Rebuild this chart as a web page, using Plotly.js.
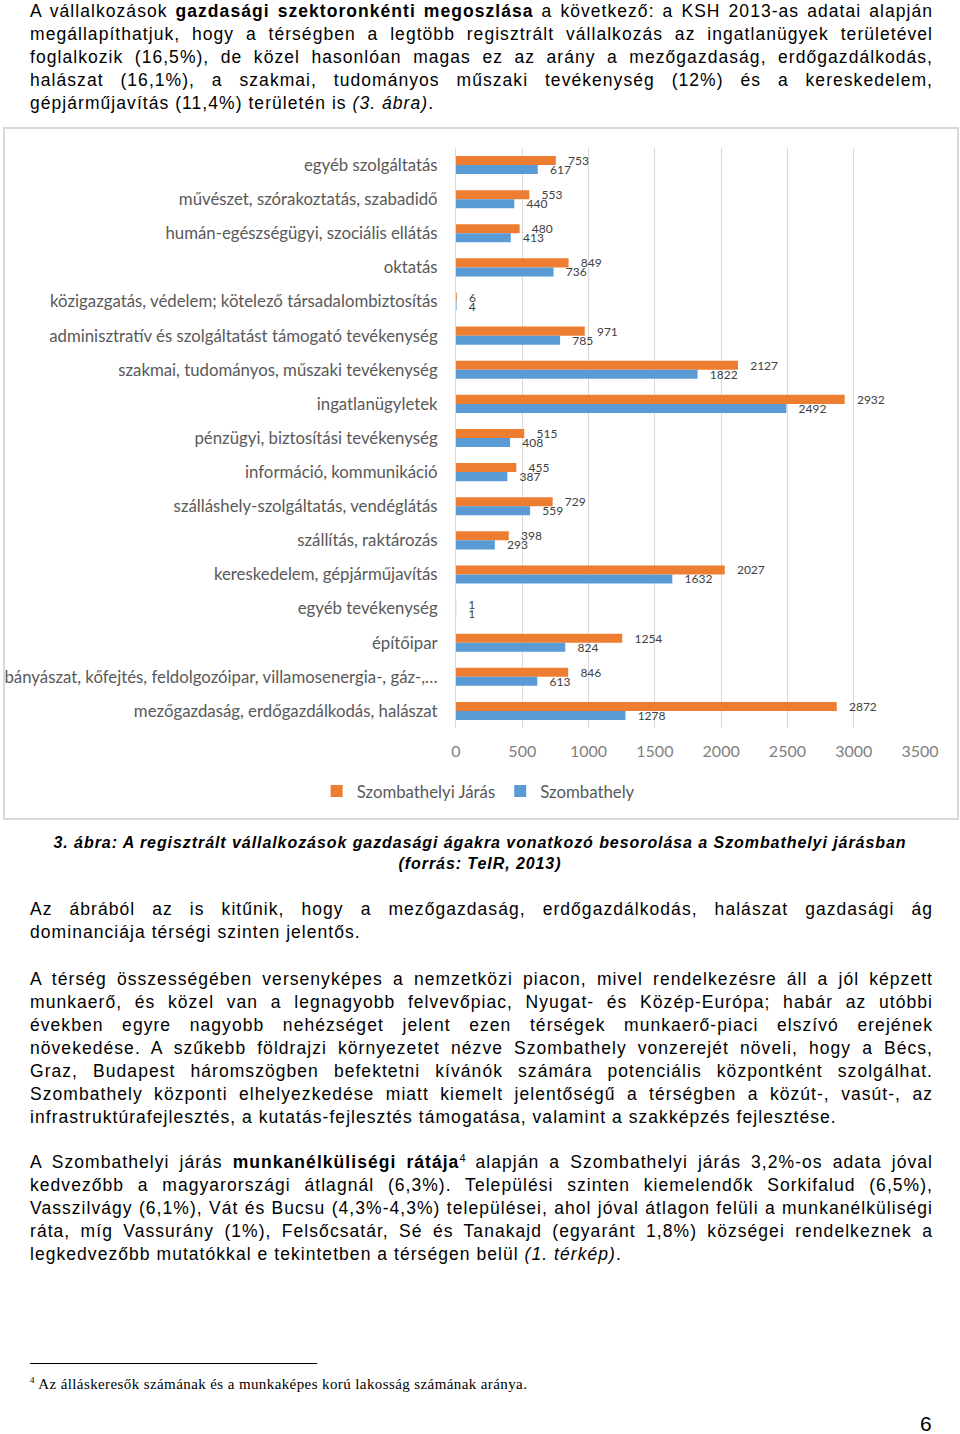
<!DOCTYPE html>
<html>
<head>
<meta charset="utf-8">
<script src="https://cdn.plot.ly/plotly-3.0.1.min.js"></script>
<style>
  html, body { margin:0; padding:0; background:#fff; }
  body { width:960px; height:1434px; position:relative; overflow:hidden; font-family:"Liberation Sans", Arial, sans-serif; color:#000; }
  .para { position:absolute; left:30px; width:903px; font-size:17.5px; line-height:23px; letter-spacing:1.05px; }
  .ln { white-space:nowrap; text-align:justify; text-align-last:justify; width:903px; }
  .last { text-align:left; text-align-last:left; }
  .cap { position:absolute; left:0; width:960px; text-align:center; font-weight:bold; font-style:italic; font-size:16px; line-height:21px; top:832px; letter-spacing:0.93px; }
  #chartbox { position:absolute; left:3px; top:127px; width:952px; height:689px; border:2px solid #d9d9d9; }
  #chart { width:952px; height:689px; }
  .fnline { position:absolute; left:30px; top:1363px; width:287px; height:1px; background:#000; }
  .fn { position:absolute; left:30px; top:1375px; font-family:"Liberation Serif", "Times New Roman", serif; font-size:15px; letter-spacing:0.4px; white-space:nowrap; }
  .fn sup { font-size:9px; }
  .pg { position:absolute; left:920px; top:1412px; font-size:21px; font-family:"Liberation Sans", Arial, sans-serif; }
  sup.fr { font-size:11px; vertical-align:6px; line-height:0; letter-spacing:0; }
</style>
</head>
<body>
<div class="para" style="top:0px;">
  <div class="ln">A vállalkozások <b>gazdasági szektoronkénti megoszlása</b> a következő: a KSH 2013-as adatai alapján</div>
  <div class="ln">megállapíthatjuk, hogy a térségben a legtöbb regisztrált vállalkozás az ingatlanügyek területével</div>
  <div class="ln">foglalkozik (16,5%), de közel hasonlóan magas ez az arány a mezőgazdaság, erdőgazdálkodás,</div>
  <div class="ln">halászat (16,1%), a szakmai, tudományos műszaki tevékenység (12%) és a kereskedelem,</div>
  <div class="ln last">gépjárműjavítás (11,4%) területén is <i>(3. ábra)</i>.</div>
</div>

<div id="chartbox"><div id="chart"></div></div>

<div class="cap">3. ábra: A regisztrált vállalkozások gazdasági ágakra vonatkozó besorolása a Szombathelyi járásban<br>(forrás: TeIR, 2013)</div>

<div class="para" style="top:898px;">
  <div class="ln">Az ábrából az is kitűnik, hogy a mezőgazdaság, erdőgazdálkodás, halászat gazdasági ág</div>
  <div class="ln last">dominanciája térségi szinten jelentős.</div>
</div>

<div class="para" style="top:968px;">
  <div class="ln">A térség összességében versenyképes a nemzetközi piacon, mivel rendelkezésre áll a jól képzett</div>
  <div class="ln">munkaerő, és közel van a legnagyobb felvevőpiac, Nyugat- és Közép-Európa; habár az utóbbi</div>
  <div class="ln">években egyre nagyobb nehézséget jelent ezen térségek munkaerő-piaci elszívó erejének</div>
  <div class="ln">növekedése. A szűkebb földrajzi környezetet nézve Szombathely vonzerejét növeli, hogy a Bécs,</div>
  <div class="ln">Graz, Budapest háromszögben befektetni kívánók számára potenciális központként szolgálhat.</div>
  <div class="ln">Szombathely központi elhelyezkedése miatt kiemelt jelentőségű a térségben a közút-, vasút-, az</div>
  <div class="ln last">infrastruktúrafejlesztés, a kutatás-fejlesztés támogatása, valamint a szakképzés fejlesztése.</div>
</div>

<div class="para" style="top:1151px;">
  <div class="ln">A Szombathelyi járás <b>munkanélküliségi rátája</b><sup class="fr">4</sup> alapján a Szombathelyi járás 3,2%-os adata jóval</div>
  <div class="ln">kedvezőbb a magyarországi átlagnál (6,3%). Települési szinten kiemelendők Sorkifalud (6,5%),</div>
  <div class="ln">Vasszilvágy (6,1%), Vát és Bucsu (4,3%-4,3%) települései, ahol jóval átlagon felüli a munkanélküliségi</div>
  <div class="ln">ráta, míg Vassurány (1%), Felsőcsatár, Sé és Tanakajd (egyaránt 1,8%) községei rendelkeznek a</div>
  <div class="ln last">legkedvezőbb mutatókkal e tekintetben a térségen belül <i>(1. térkép)</i>.</div>
</div>

<div class="fnline"></div>
<div class="fn"><sup>4</sup> Az álláskeresők számának és a munkaképes korú lakosság számának aránya.</div>
<div class="pg">6</div>

<script>
// shrink letter-spacing on any justified line that would overflow the text width
document.querySelectorAll('.ln').forEach(function (el) {
  var ls = 1.05;
  while (el.scrollWidth > 903 && ls > -0.5) {
    ls -= 0.05;
    el.style.letterSpacing = ls.toFixed(2) + 'px';
  }
});

const categories = [
  "egyéb szolgáltatás",
  "művészet, szórakoztatás, szabadidő",
  "humán-egészségügyi, szociális ellátás",
  "oktatás",
  "közigazgatás, védelem; kötelező társadalombiztosítás",
  "adminisztratív és szolgáltatást támogató tevékenység",
  "szakmai, tudományos, műszaki tevékenység",
  "ingatlanügyletek",
  "pénzügyi, biztosítási tevékenység",
  "információ, kommunikáció",
  "szálláshely-szolgáltatás, vendéglátás",
  "szállítás, raktározás",
  "kereskedelem, gépjárműjavítás",
  "egyéb tevékenység",
  "építőipar",
  "bányászat, kőfejtés, feldolgozóipar, villamosenergia-, gáz-,…",
  "mezőgazdaság, erdőgazdálkodás, halászat"
];
const jarasValues = [753, 553, 480, 849, 6, 971, 2127, 2932, 515, 455, 729, 398, 2027, 1, 1254, 846, 2872];
const szombathelyValues = [617, 440, 413, 736, 4, 785, 1822, 2492, 408, 387, 559, 293, 1632, 1, 824, 613, 1278];
const seriesNames = ["Szombathelyi Járás", "Szombathely"];
const xTicks = [0, 500, 1000, 1500, 2000, 2500, 3000, 3500];

const chartFont = "Lato, 'Open Sans', sans-serif";
const pad = "\u00a0\u00a0\u00a0";

const traces = [
  {
    type: "bar", orientation: "h", name: seriesNames[0],
    y: categories, x: jarasValues,
    marker: { color: "#ED7D31" },
    text: jarasValues.map(v => pad + v),
    textposition: "outside", textfont: { family: chartFont, size: 12, color: "#404040" },
    constraintext: "none", cliponaxis: false, hoverinfo: "x+y"
  },
  {
    type: "bar", orientation: "h", name: seriesNames[1],
    y: categories, x: szombathelyValues,
    marker: { color: "#5B9BD5" },
    text: szombathelyValues.map(v => pad + v),
    textposition: "outside", textfont: { family: chartFont, size: 12, color: "#404040" },
    constraintext: "none", cliponaxis: false, hoverinfo: "x+y"
  }
];

const layout = {
  width: 952, height: 689,
  margin: { l: 451, r: 37, t: 19, b: 90 },
  paper_bgcolor: "#fff", plot_bgcolor: "#fff",
  barmode: "group", bargap: 0.47, bargroupgap: 0,
  font: { family: chartFont, color: "#595959" },
  xaxis: {
    range: [0, 3500], tickvals: xTicks, ticktext: xTicks.map(String),
    showgrid: true, gridcolor: "#d9d9d9", gridwidth: 1,
    zeroline: false, showline: false, ticks: "",
    tickfont: { family: chartFont, size: 16, color: "#7f7f7f" },
    ticklabelstandoff: 12, fixedrange: true
  },
  yaxis: {
    type: "category", autorange: "reversed",
    showgrid: false, zeroline: false,
    showline: true, linecolor: "#d9d9d9", linewidth: 1,
    ticks: "", tickfont: { family: chartFont, size: 16.8, color: "#595959" },
    ticklabelstandoff: 14, fixedrange: true
  },
  showlegend: true,
  legend: {
    orientation: "h", xref: "container", yref: "container",
    x: 0.497, xanchor: "center", y: 0.039, yanchor: "middle",
    font: { family: chartFont, size: 16.8, color: "#595959" },
    itemwidth: 30, tracegroupgap: 0
  }
};

Plotly.newPlot("chart", traces, layout, { displayModeBar: false, staticPlot: true });
</script>
</body>
</html>
